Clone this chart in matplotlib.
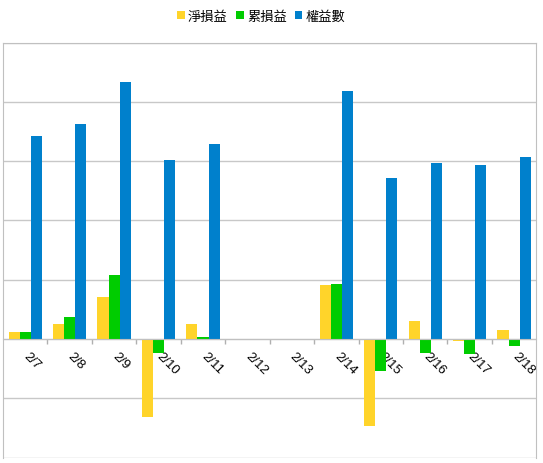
import numpy as np
import matplotlib
matplotlib.use("Agg")
import matplotlib.pyplot as plt
from matplotlib.ticker import FixedLocator, NullFormatter

dates = ['2/7', '2/8', '2/9', '2/10', '2/11', '2/12', '2/13',
         '2/14', '2/15', '2/16', '2/17', '2/18']
net_pnl = [0.12, 0.25, 0.71, -1.31, 0.25, 0, 0, 0.91, -1.47, 0.31, -0.03, 0.15]
cum_pnl = [0.12, 0.37, 1.08, -0.23, 0.03, 0, 0, 0.93, -0.54, -0.23, -0.26, -0.12]
equity = [3.42, 3.62, 4.34, 3.02, 3.28, 0, 0, 4.19, 2.71, 2.97, 2.93, 3.07]
labels = ['淨損益', '累損益', '權益數']
colors = ['#FFD42A', '#00CC00', '#0080CC']

plt.rcParams['font.family'] = ['Liberation Sans', 'Noto Sans CJK TC', 'DejaVu Sans']

fig = plt.figure(figsize=(5.43, 4.64), dpi=100)
ax = fig.add_axes([3 / 543, 5.5 / 464, 533.3 / 543, 415 / 464])

x = np.arange(len(dates))
w = 0.25
ax.bar(x - w, net_pnl, w, color=colors[0], label=labels[0])
ax.bar(x, cum_pnl, w, color=colors[1], label=labels[1])
ax.bar(x + w, equity, w, color=colors[2], label=labels[2])

ax.set_xlim(-0.5, len(dates) - 0.5)
ax.set_ylim(-2, 5)
ax.set_yticks(range(-2, 6))
ax.yaxis.set_major_formatter(NullFormatter())
ax.tick_params(axis='y', length=0)
ax.grid(axis='y', color='#C8C8C8', linewidth=1)
ax.set_axisbelow(True)

for s in ['left', 'right', 'top']:
    ax.spines[s].set_color('#C0C0C0')
ax.spines['bottom'].set_position(('data', 0))
ax.spines['bottom'].set_color('#C0C0C0')

ax.set_xticks(x)
ax.set_xticklabels(dates, rotation=-45, ha='left', va='center',
                   rotation_mode='anchor', fontsize=9.5)
ax.tick_params(axis='x', which='major', length=0, pad=10.5)
ax.xaxis.set_minor_locator(FixedLocator(np.arange(0.5, len(dates) - 0.5, 1)))
ax.tick_params(axis='x', which='minor', length=3.6, color='#B0B0B0', width=1)

fig.legend(loc='center', bbox_to_anchor=(261.5 / 543, 1 - 17 / 464), ncol=3,
           frameon=False, prop={'family': ['Noto Sans CJK TC'], 'size': 9.5},
           handlelength=0.55, handleheight=0.55, handletextpad=0.25,
           columnspacing=0.65, borderaxespad=0)

fig.savefig('out.png', dpi=100)
